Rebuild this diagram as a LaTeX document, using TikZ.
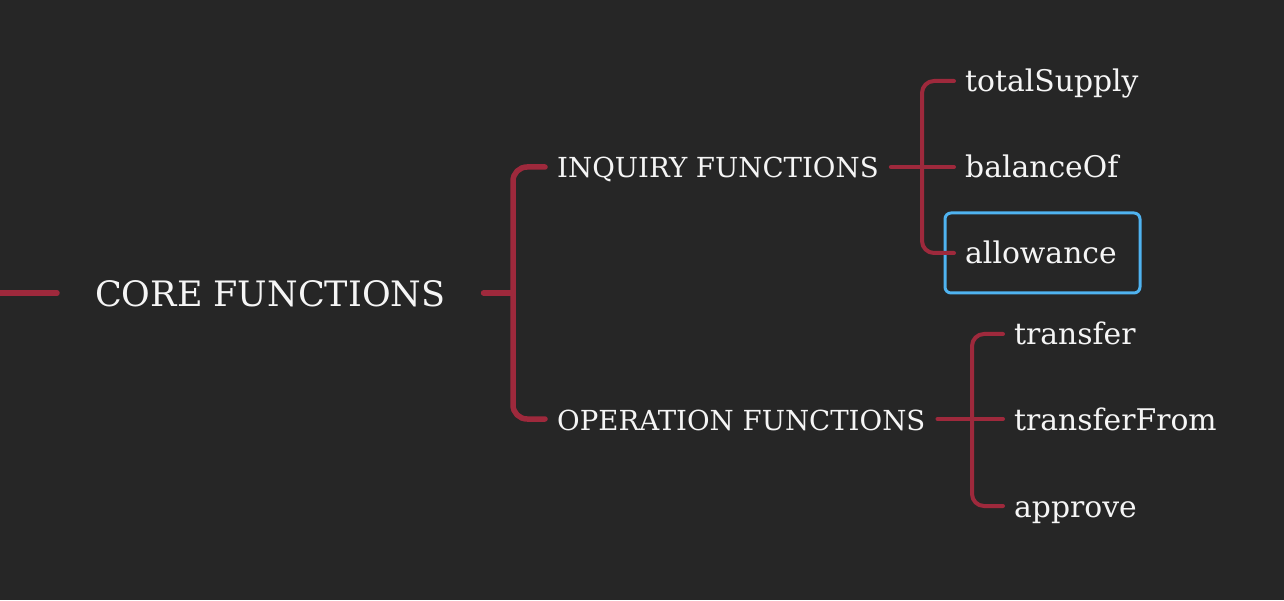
\documentclass[tikz,border=0pt]{standalone}
\usepackage{fontspec}
\setmainfont{DejaVu Serif}
\definecolor{bg}{HTML}{262626}
\definecolor{conn}{RGB}{158,41,60}
\definecolor{hl}{RGB}{79,179,240}
\definecolor{txt}{HTML}{F5F5F5}
\begin{document}
\begin{tikzpicture}[x=1pt,y=1pt,
  coretext/.style={text=txt,font=\fontsize{35}{40}\selectfont,inner xsep=38,inner ysep=0,text height=28,text depth=0,anchor=west},
  branchtext/.style={text=txt,font=\fontsize{27.6}{30}\selectfont,inner xsep=12,inner ysep=0,text height=22,text depth=0,anchor=west},
  leaftext/.style={text=txt,font=\fontsize{29.8}{32}\selectfont,inner xsep=11,inner ysep=0,text height=22,text depth=0,anchor=west},
  mainline/.style={draw=conn,line width=5.5,line cap=round,line join=round},
  leafline/.style={draw=conn,line width=4,line cap=round,line join=round},
  hlbox/.style={draw=hl,line width=3,rounded corners=6}]
\useasboundingbox (0,0) rectangle (1284,600);
\fill[bg] (0,0) rectangle (1284,600);
% nodes
\coordinate (start) at (0,307);
\node[coretext] (core) at (57,307) {CORE FUNCTIONS};
\node[branchtext] (inq) at (545,433) {INQUIRY FUNCTIONS};
\node[branchtext] (op) at (545,181) {OPERATION FUNCTIONS};
\node[leaftext] (ts) at (954,519) {totalSupply};
\node[leaftext] (bal) at (954,433) {balanceOf};
\node[leaftext] (al) at (954,347) {allowance};
\node[leaftext] (tr) at (1003,266) {transfer};
\node[leaftext] (tf) at (1003,181) {transferFrom};
\node[leaftext] (ap) at (1003,94) {approve};
\coordinate (bk) at ([xshift=-32]inq.west);
% highlight box
\draw[hlbox] ([shift={(-9,-40)}]al.west) rectangle ([shift={(186,40)}]al.west);
% connectors
\draw[mainline] (start) -- (core.west);
\draw[mainline] (core.east) -- (core.east -| bk);
\draw[mainline,rounded corners=14] (inq.west) -- (bk) |- (op.west);
\draw[leafline] (inq.east) -- (bal.west);
\draw[leafline,rounded corners=12] (ts.west) -- ++(-32,0) |- (al.west);
\draw[leafline] (op.east) -- (tf.west);
\draw[leafline,rounded corners=12] (tr.west) -- ++(-31,0) |- (ap.west);
\end{tikzpicture}
\end{document}
